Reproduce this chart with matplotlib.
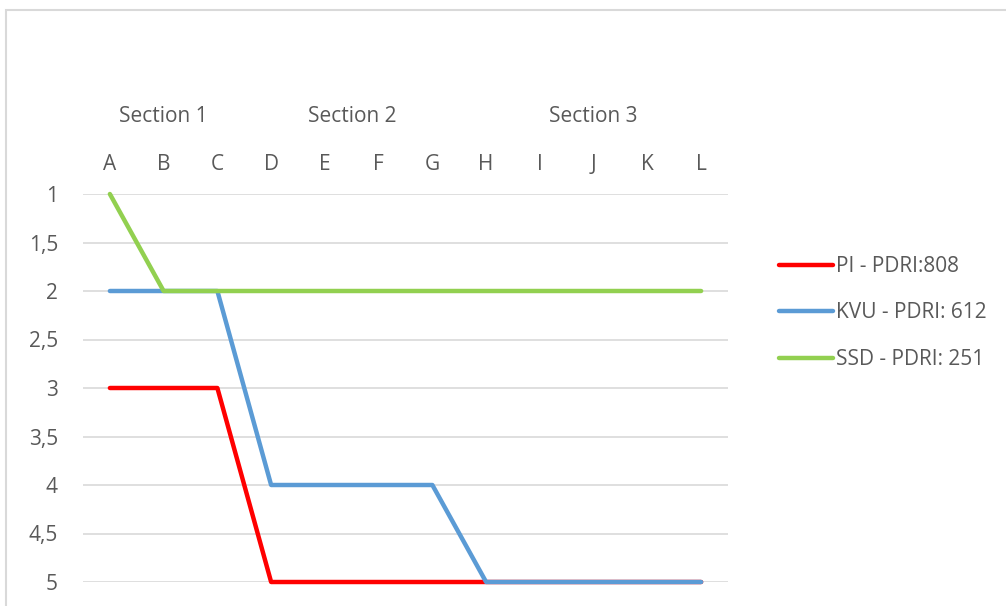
import matplotlib.pyplot as plt
import matplotlib as mpl
from matplotlib.patches import Rectangle

mpl.style.use("default")
plt.rcParams['font.family'] = ['Open Sans', 'DejaVu Sans']

categories = ["A", "B", "C", "D", "E", "F", "G", "H", "I", "J", "K", "L"]
pi_values = [3, 3, 3, 5, 5, 5, 5, 5, 5, 5, 5, 5]
kvu_values = [2, 2, 2, 4, 4, 4, 4, 5, 5, 5, 5, 5]
ssd_values = [1, 2, 2, 2, 2, 2, 2, 2, 2, 2, 2, 2]
series_labels = ["PI - PDRI:808", "KVU - PDRI: 612", "SSD - PDRI: 251"]
sections = ["Section 1", "Section 2", "Section 3"]
section_pos = [1, 4.5, 9]
y_ticks = [1, 1.5, 2, 2.5, 3, 3.5, 4, 4.5, 5]
y_tick_labels = ["1", "1,5", "2", "2,5", "3", "3,5", "4", "4,5", "5"]

text_color = "#595959"
fs = 15
fig = plt.figure(figsize=(10.06, 6.06), dpi=100)
W, H = 1006, 606
ax = fig.add_axes([83 / W, 1 - 582 / H, (728 - 83) / W, (582 - 194) / H])

x = list(range(len(categories)))
ax.plot(x, pi_values, color="#FF0000", lw=3.2, solid_capstyle="round", clip_on=False, label=series_labels[0], zorder=3)
ax.plot(x, kvu_values, color="#5B9BD5", lw=3.2, solid_capstyle="round", clip_on=False, label=series_labels[1], zorder=4)
ax.plot(x, ssd_values, color="#92D050", lw=3.2, solid_capstyle="round", clip_on=False, label=series_labels[2], zorder=5)

ax.set_xlim(-0.5, len(categories) - 0.5)
ax.set_ylim(5, 1)
ax.set_yticks(y_ticks)
ax.set_yticklabels(y_tick_labels)
ax.set_xticks(x)
ax.set_xticklabels(categories)
ax.xaxis.tick_top()
ax.tick_params(axis="both", length=0, labelsize=fs, colors=text_color)
ax.tick_params(axis="x", pad=14)
ax.tick_params(axis="y", pad=18)

ax.grid(True, axis="y", color="#D9D9D9", lw=1.2)
ax.set_axisbelow(True)
for s in ax.spines.values():
    s.set_visible(False)

for name, pos in zip(sections, section_pos):
    ax.text(pos, 0.2, name, ha="center", va="center", fontsize=fs, color=text_color)

leg = ax.legend(loc="center left", bbox_to_anchor=(779 / W, 1 - 313 / H), bbox_transform=fig.transFigure,
                frameon=False, fontsize=fs, handlelength=2.6, handletextpad=0.12, labelspacing=1.22,
                borderpad=0, borderaxespad=0)
for t in leg.get_texts():
    t.set_color(text_color)

fig.patches.append(Rectangle((6 / W, -0.05), 1.1, 1 - 10 / H + 0.05, transform=fig.transFigure,
                             fill=False, edgecolor="#D9D9D9", lw=1.5))

fig.savefig("out.png", dpi=100)
